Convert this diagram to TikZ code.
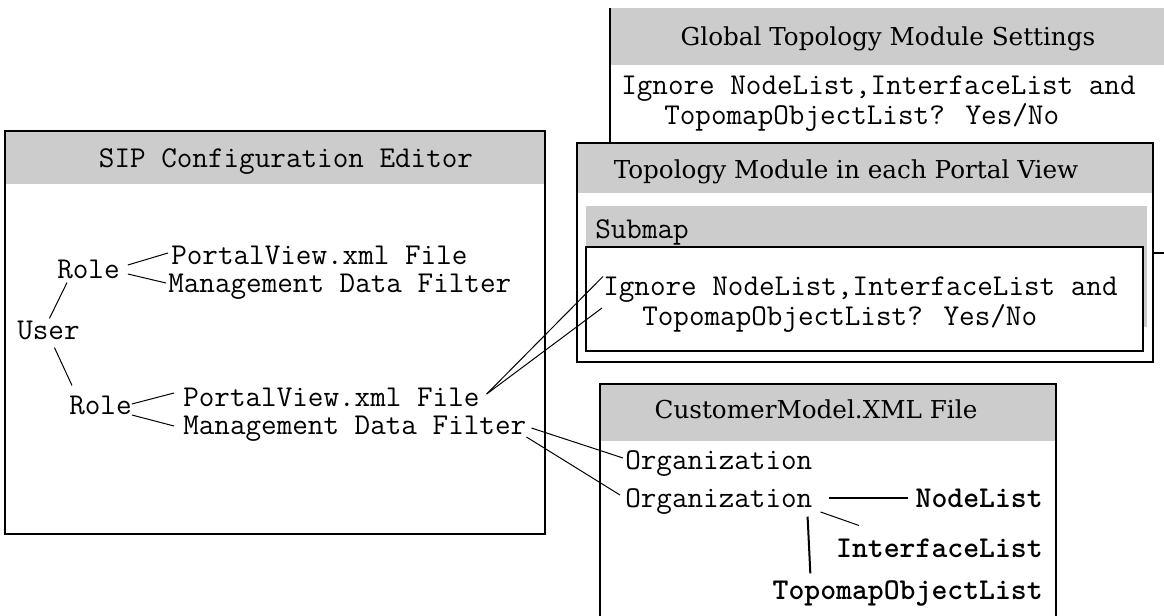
\documentclass[tikz,border=0pt]{standalone}
\usepackage{fontspec}
\setmainfont{DejaVu Serif}
\newfontfamily\monobold{lmmonolt10-bold.otf}
\usetikzlibrary{calc}
\definecolor{headgrey}{RGB}{204,204,204}
\tikzset{
  mono/.style={font=\ttfamily\fontsize{22.7}{27}\selectfont, inner sep=0pt, text height=13.9pt, text depth=0pt, anchor=west},
  monob/.style={mono, font=\monobold\fontsize{22.7}{27}\selectfont},
  boxtitle/.style={font=\fontsize{18.5}{22}\selectfont, inner sep=0pt, text height=13.5pt, text depth=0pt},
  boxline/.style={line width=1.9pt},
  link/.style={line width=0.75pt},
  thicklink/.style={line width=1.5pt},
}
\begin{document}
\begin{tikzpicture}[x=0.75pt,y=0.75pt,yscale=-1,xscale=1]
\useasboundingbox (0,0) rectangle (1164,616);
\clip (0,0) rectangle (1164,616);

%Shape: Rectangle [Global Topology Module Settings]
\fill[headgrey] (610,8) rectangle (1170,65);
\draw[boxline] (610,8) -- (610,253) -- (1170,253);
% Text Node
\node[boxtitle] (gtitle) at (888,37) {Global Topology Module Settings};
% Text Node
\node[mono] (gignore) at (621,85) {Ignore NodeList,InterfaceList and};
% Text Node
\node[mono] (gtopomap) at (664,115) {TopomapObjectList? Yes/No};

%Shape: Rectangle [Topology Module in each Portal View]
\fill[white] (577,143) rectangle (1153,362);
\fill[headgrey] (577,143) rectangle (1153,193);
\fill[headgrey] (586,206) rectangle (1147,327);
\draw[boxline, fill=white] (586,247) rectangle (1143,351);
\draw[boxline] (577,143) rectangle (1153,362);
% Text Node
\node[boxtitle] (ttitle) at (846,170) {Topology Module in each Portal View};
% Text Node
\node[mono] (submap) at (595,229) {Submap};
% Text Node
\node[mono] (tignore) at (603,286) {Ignore NodeList,InterfaceList and};
% Text Node
\node[mono] (ttopomap) at (642,316) {TopomapObjectList? Yes/No};

%Shape: Rectangle [SIP Configuration Editor]
\fill[headgrey] (5,131) rectangle (545,184);
\draw[boxline] (5,131) rectangle (545,534);
% Text Node
\node[mono, anchor=center] (siptitle) at (286,158) {SIP Configuration Editor};
% Text Node
\node[mono] (user) at (17,330) {User};
\node[mono] (role1) at (57,269) {Role};
\node[mono] (pv1) at (171,255) {PortalView.xml File};
\node[mono] (mdf1) at (168,283) {Management Data Filter};
\node[mono] (role2) at (69,405) {Role};
\node[mono] (pv2) at (183,397) {PortalView.xml File};
\node[mono] (mdf2) at (183,425) {Management Data Filter};

%Shape: Rectangle [CustomerModel.XML File]
\fill[headgrey] (600,384) rectangle (1056,441);
\draw[boxline] (600,630) -- (600,384) -- (1056,384) -- (1056,630);
% Text Node
\node[boxtitle] (ctitle) at (816,410) {CustomerModel.XML File};
% Text Node
\node[mono] (org1) at (625,460) {Organization};
\node[mono] (org2) at (625,498) {Organization};
\node[monob, anchor=east] (nodelist) at (1043,498) {NodeList};
\node[monob, anchor=east] (ifacelist) at (1043,548) {InterfaceList};
\node[monob, anchor=east] (topolist) at (1043,590) {TopomapObjectList};

%Straight Lines [user to roles]
\draw[link] ($(user.north)+(1,-2)$) -- ($(role1.south west)+(10,4)$);
\draw[link] ($(user.south)+(6,8)$) -- ($(role2.north west)+(3,-10)$);
%Straight Lines [roles to files and filters]
\draw[link] ($(role1.east)+(8,-4)$) -- ($(pv1.west)+(-3,-2)$);
\draw[link] ($(role1.east)+(8,5)$) -- ($(mdf1.west)+(-2,0)$);
\draw[link] ($(role2.east)+(0,-1)$) -- ($(pv2.west)+(-9,-4)$);
\draw[link] ($(role2.east)+(0,10)$) -- ($(mdf2.west)+(-9,1)$);
%Straight Lines [portal view file to submap setting]
\draw[link] ($(pv2.east)+(7,-3)$) -- (tignore.north west);
\draw[link] ($(pv2.east)+(7,-3)$) -- ($(ttopomap.west)+(-40,-8)$);
%Straight Lines [data filter to organizations]
\draw[link] ($(mdf2.east)+(5,3)$) -- ($(org1.west)+(-2,-2)$);
\draw[link] ($(mdf2.east)+(0,12)$) -- ($(org2.west)+(-5,-3)$);
%Straight Lines [organization to lists]
\draw[thicklink] ($(org2.east)+(16,0)$) -- ($(nodelist.west)+(-7,0)$);
\draw[link] ($(org2.east)+(8,14)$) -- ($(ifacelist.north west)+(23,-13)$);
\draw[thicklink] ($(org2.south east)+(-5,9)$) -- ($(topolist.north west)+(38,-7)$);

\end{tikzpicture}
\end{document}
